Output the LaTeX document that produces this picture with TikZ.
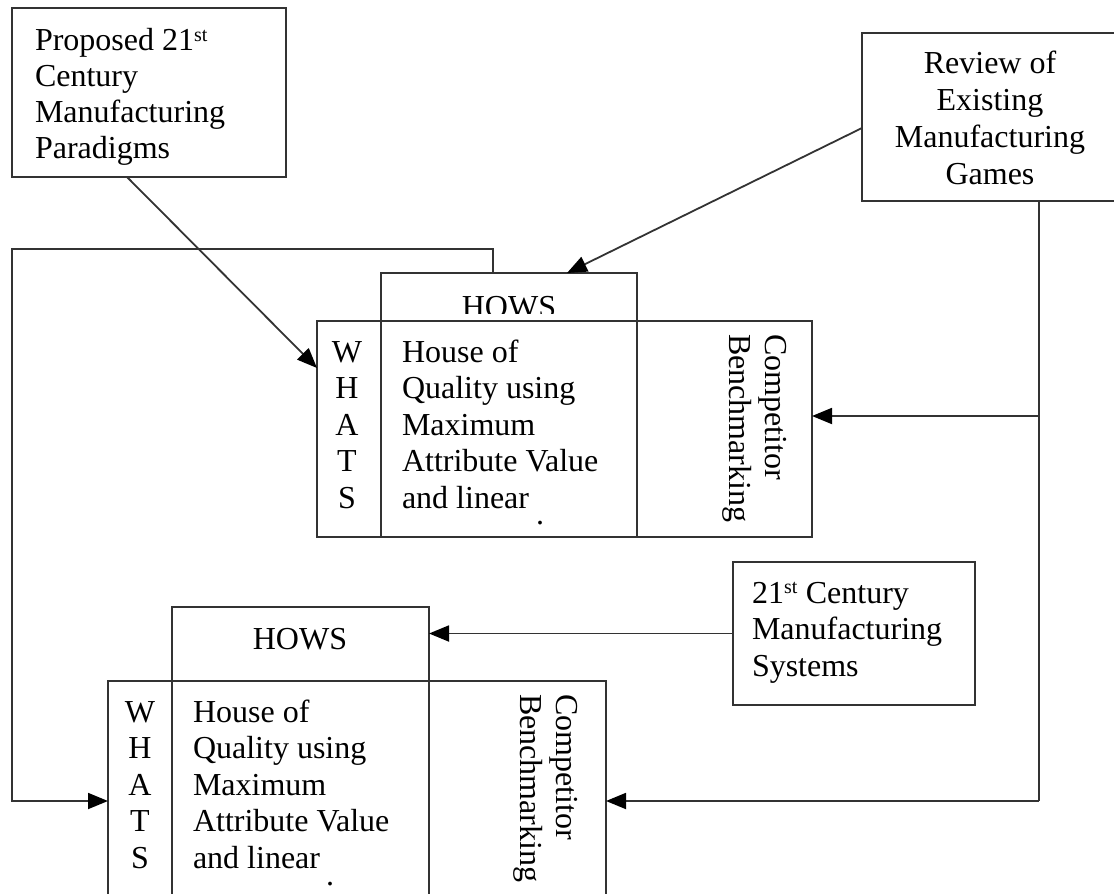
\documentclass[tikz,border=0pt]{standalone}
\usepackage{fontspec}
\setmainfont{Liberation Serif}
\usetikzlibrary{arrows.meta}
\begin{document}
\begin{tikzpicture}[x=1pt,y=-1pt,
  line/.style={draw=black!80, line width=1.8pt},
  box/.style={line, rectangle, inner sep=0pt, outer sep=0pt, anchor=north west},
  txt/.style={inner sep=0pt, outer sep=0pt, font=\fontsize{32}{36.5}\selectfont},
  arr/.style={line, -{Triangle[length=20pt,width=16pt,color=black]}},
]
\useasboundingbox (0,0) rectangle (1114,894);
\clip (0,0) rectangle (1114,894);

% source boxes (multi-line texts are placed by the baseline of their last line)
\node[box, minimum width=274pt, minimum height=169pt] (para) at (12,8) {};
\node[txt, anchor=base west, align=left, font=\fontsize{32}{35.7}\selectfont] (paraTxt) at (35,158)
  {Proposed 21\textsuperscript{\fontsize{20}{20}\selectfont st}\\Century\\Manufacturing\\Paradigms};

\node[box, minimum width=256pt, minimum height=168pt] (review) at (862,33) {};
\node[txt, anchor=base, align=center, font=\fontsize{32}{37}\selectfont] (reviewTxt) at (990,184)
  {Review of\\Existing\\Manufacturing\\Games};

\node[box, minimum width=242pt, minimum height=143pt] (sys) at (733,562) {};
\node[txt, anchor=base west, align=left] (sysTxt) at (752,676)
  {21\textsuperscript{\fontsize{20}{20}\selectfont st} Century\\Manufacturing\\Systems};

% upper house of quality
\node[box, minimum width=495pt, minimum height=216pt] (topMain) at (317,321) {};
\node[box, minimum width=256pt, minimum height=48pt] (topHows) at (381,273) {};
\draw[line] (topHows.south west) -- (topHows.south west |- topMain.south);
\draw[line] (topHows.south east) -- (topHows.south east |- topMain.south);
\begin{scope}
  % the roof label is cut off just above the main frame
  \clip (381,273) rectangle (637,313);
  \node[txt, anchor=base] (topHowsTxt) at (509,317) {HOWS};
\end{scope}
\node[txt, anchor=base, align=center] (topWhats) at (347,508) {W\\H\\A\\T\\S};
\node[txt, anchor=base west, align=left] (topBody) at (402,508)
  {House of\\Quality using\\Maximum\\Attribute Value\\and linear};
\node[txt, rotate=-90, anchor=base west, align=left] (topBench) at (729,334)
  {Competitor\\Benchmarking};
\node[txt] (topDot) at (540,523) {.};

% lower house of quality
\node[box, minimum width=498pt, minimum height=216pt] (lowMain) at (108,681) {};
\node[box, minimum width=257pt, minimum height=74pt] (lowHows) at (172,607) {};
\draw[line] (lowHows.south west) -- (lowHows.south west |- lowMain.south);
\draw[line] (lowHows.south east) -- (lowHows.south east |- lowMain.south);
\node[txt, anchor=base] (lowHowsTxt) at (300,649) {HOWS};
\node[txt, anchor=base, align=center] (lowWhats) at (140,868) {W\\H\\A\\T\\S};
\node[txt, anchor=base west, align=left] (lowBody) at (193,868)
  {House of\\Quality using\\Maximum\\Attribute Value\\and linear};
\node[txt, rotate=-90, anchor=base west, align=left] (lowBench) at (520,694)
  {Competitor\\Benchmarking};
\node[txt] (lowDot) at (330,884) {.};

% connectors
\coordinate (j1) at (1039,416);
\coordinate (j2) at (1039,801);
\coordinate (c1) at (12,249);

\draw[arr] ([xshift=115pt]para.south west) -- ([yshift=-47pt]topMain.north west);
\draw[arr] ([yshift=-95pt]review.north west) -- ([xshift=186pt]topHows.north west);
\draw[line] (review.south -| j1) -- (j2);
\draw[arr] (j1) -- (topMain.east |- j1);
\draw[arr] (j2) -- (lowMain.east |- j2);
\draw[arr] ([xshift=112pt]topHows.north west) |- (c1) |- (lowMain.west |- j2);
\draw[arr] (sys.west) -- (lowHows.east |- sys.west);
\end{tikzpicture}
\end{document}
